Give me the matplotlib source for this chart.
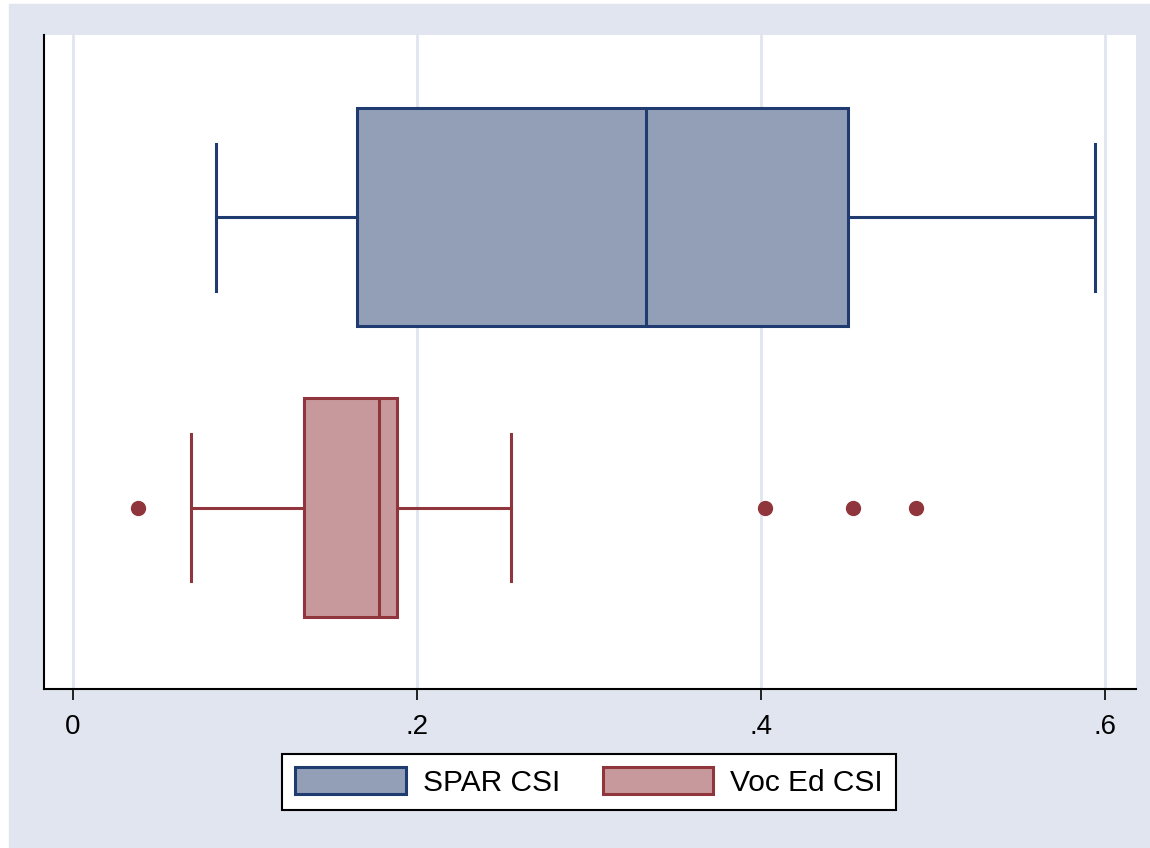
import matplotlib.pyplot as plt
from matplotlib.patches import Rectangle, Patch

plt.rcParams['font.family'] = ['Liberation Sans', 'DejaVu Sans']

# box plot summary values
groups = ['SPAR CSI', 'Voc Ed CSI']
whislo = [0.0831, 0.0686]
q1 = [0.165, 0.1343]
med = [0.333, 0.178]
q3 = [0.4506, 0.1884]
whishi = [0.594, 0.2547]
fliers = [[], [0.0378, 0.4023, 0.4535, 0.490]]

xticks = [0, 0.2, 0.4, 0.6]
xticklabels = ['0', '.2', '.4', '.6']

fills = ['#939FB7', '#C8999C']
edges = ['#1F3B70', '#90353B']
bg = '#E1E5F0'

fig = plt.figure(figsize=(11.5, 8.48), dpi=100, facecolor='white')
fig.patches.append(Rectangle((9 / 1150, 0), 1, 1 - 4 / 848,
                             transform=fig.transFigure, color=bg, zorder=-10))
ax = fig.add_axes([44 / 1150, 1 - 689 / 848, (1136 - 44) / 1150, (689 - 35) / 848])

pos = [0.7213, 0.2772]
for i in range(2):
    stats = [dict(whislo=whislo[i], q1=q1[i], med=med[i], q3=q3[i],
                  whishi=whishi[i], fliers=fliers[i])]
    ax.bxp(stats, positions=[pos[i]], widths=0.334, capwidths=0.225,
           vert=False, patch_artist=True, manage_ticks=False,
           boxprops=dict(facecolor=fills[i], edgecolor=edges[i], linewidth=2.2),
           medianprops=dict(color=edges[i], linewidth=2.2),
           whiskerprops=dict(color=edges[i], linewidth=2.2),
           capprops=dict(color=edges[i], linewidth=2.2),
           flierprops=dict(marker='o', markerfacecolor=edges[i],
                           markeredgecolor=edges[i], markersize=10))

ax.set_xlim(-0.0169, 0.6180)
ax.set_ylim(0, 1)
ax.set_xticks(xticks)
ax.set_xticklabels(xticklabels, fontsize=20)
ax.set_yticks([])
ax.tick_params(axis='x', length=8, width=1.2, pad=10)
ax.grid(axis='x', color=bg, linewidth=2)
ax.set_axisbelow(True)
for s in ['top', 'right']:
    ax.spines[s].set_visible(False)
ax.spines['left'].set_linewidth(1.5)
ax.spines['bottom'].set_linewidth(1.5)

handles = [Patch(facecolor=fills[i], edgecolor=edges[i], linewidth=2.2, label=groups[i])
           for i in range(2)]
leg = fig.legend(handles=handles, loc='center', bbox_to_anchor=(589 / 1150, 1 - 782 / 848),
                 ncol=2, fontsize=21.5, frameon=True, fancybox=False, edgecolor='black',
                 facecolor='white', framealpha=1,
                 handlelength=3.7, handleheight=1.0, handletextpad=0.57,
                 columnspacing=1.44, borderpad=0.43)
leg.get_frame().set_linewidth(1.5)

fig.savefig('out.png', dpi=100, facecolor=fig.get_facecolor())
